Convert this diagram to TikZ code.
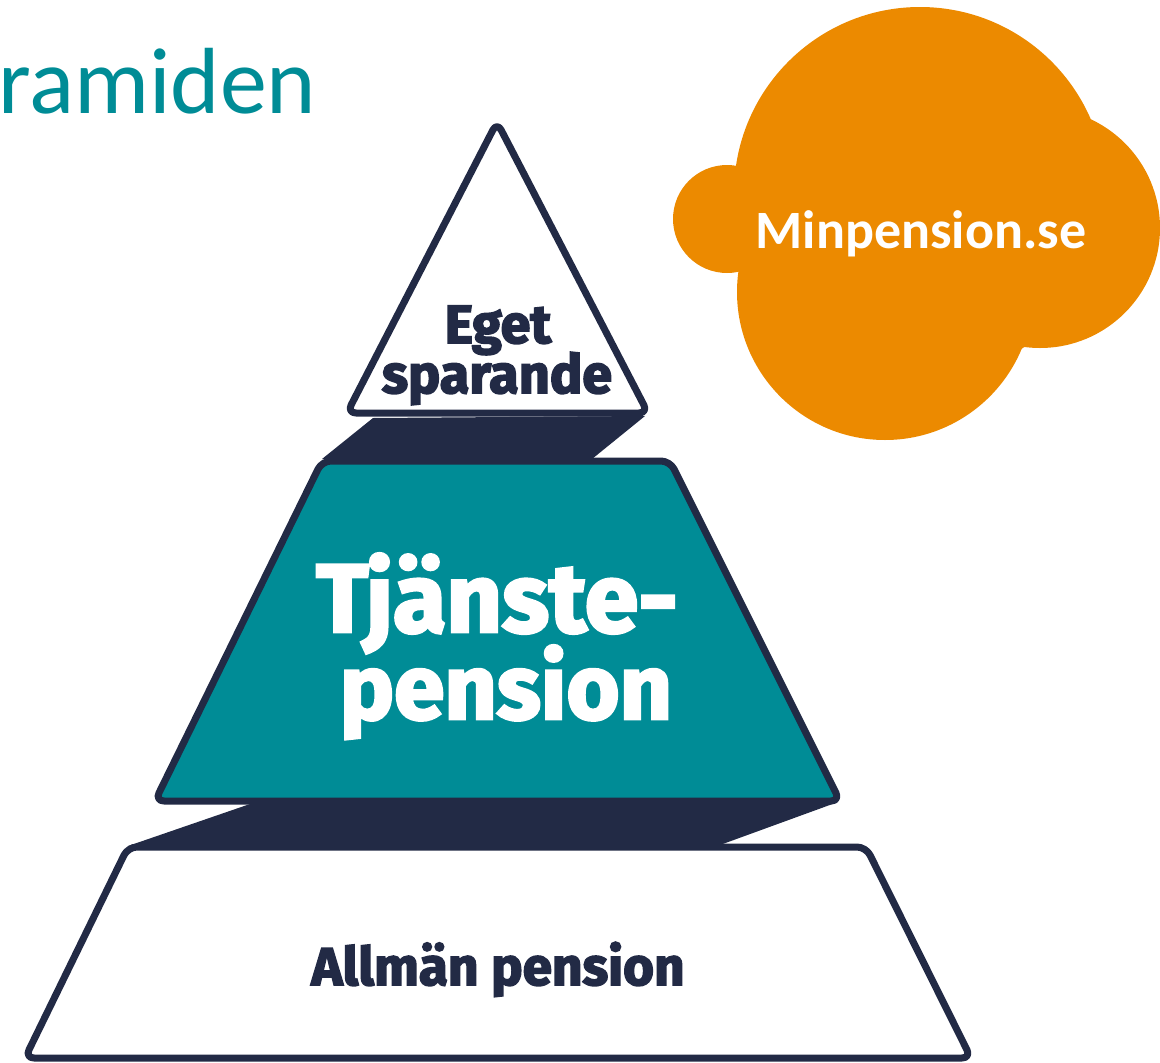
\documentclass[tikz,border=0pt]{standalone}
\usepackage{fontspec}
\newfontfamily\heavy{Fira Sans}[BoldFeatures={FakeBold=3}]
\newfontfamily\calib{Carlito}
\definecolor{navy}{HTML}{222A45}
\definecolor{teal}{HTML}{008C96}
\definecolor{orng}{HTML}{EC8A00}
\tikzset{
  tier/.style={draw=navy, line width=7pt, line join=round, rounded corners=9pt},
  band/.style={fill=navy},
  blob/.style={fill=orng},
  darktxt/.style={text=navy, inner sep=0pt, anchor=base},
  lighttxt/.style={text=white, inner sep=0pt, anchor=base},
}
\begin{document}
\begin{tikzpicture}[x=1pt,y=-1pt]
\useasboundingbox (0,0) rectangle (1160,1063);
% title
\node[anchor=base west, text=teal, font=\calib\fontsize{94}{100}\selectfont, inner sep=0pt] (title) at (-2,113) {ramiden};
% cloud
\fill[blob] (920,193) circle[radius=186];
\fill[blob] (727,219) circle[radius=54];
\fill[blob] (1040,228) circle[radius=120];
\fill[blob] (885,292) circle[radius=148];
\node[anchor=base, text=white, font=\calib\bfseries\fontsize{54}{60}\selectfont, inner sep=0pt] (mp) at (921,248) {Minpension.se};
% bands
\fill[band] (373,418) -- (645,416) -- (592,459) -- (322,459) -- cycle;
\fill[band] (250,804) -- (838,802) -- (720,845) -- (128,846) -- cycle;
% tiers
\draw[tier, fill=white] (497,122) -- (648,413) -- (347,413) -- cycle;
\draw[tier, fill=teal] (322,461) -- (670,461) -- (840,801) -- (155,801) -- cycle;
\draw[tier, fill=white] (128,847) -- (866,847) -- (971,1058) -- (25,1058) -- cycle;
% texts
\node[darktxt, font=\heavy\bfseries\fontsize{54}{56}\selectfont] (eget) at (498,343) {Eget};
\node[darktxt, font=\heavy\bfseries\fontsize{54}{56}\selectfont] (spar) at (497,393) {sparande};
\node[lighttxt, font=\heavy\bfseries\fontsize{97}{100}\selectfont] (tj) at (497,632) {Tjänste-};
\node[lighttxt, font=\heavy\bfseries\fontsize{91}{100}\selectfont] (pen) at (506,719) {pension};
\node[darktxt, font=\heavy\bfseries\fontsize{53}{56}\selectfont] (allm) at (498,985) {Allmän pension};
\end{tikzpicture}
\end{document}
